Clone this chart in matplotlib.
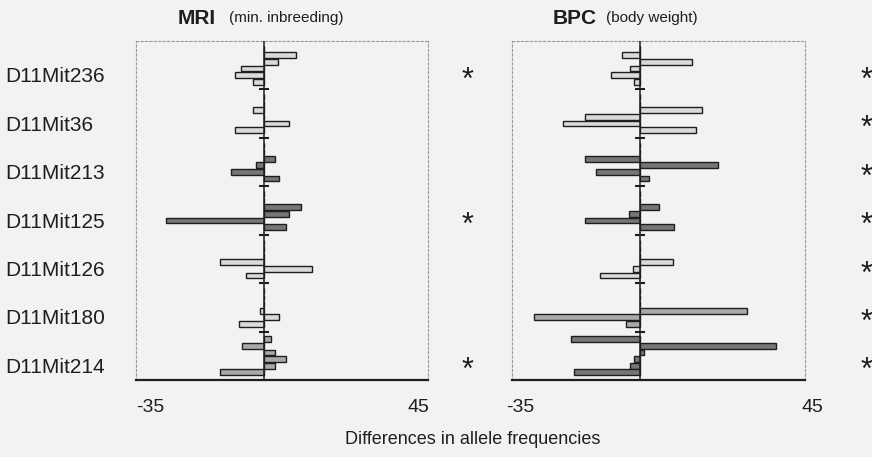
import numpy as np
import matplotlib
matplotlib.use("Agg")
import matplotlib.pyplot as plt
from matplotlib.transforms import blended_transform_factory, ScaledTranslation

plt.rcParams['font.family'] = ['Liberation Sans', 'DejaVu Sans']

# markers (rows, top to bottom)
markers = ['D11Mit236', 'D11Mit36', 'D11Mit213', 'D11Mit125',
           'D11Mit126', 'D11Mit180', 'D11Mit214']

# differences in allele frequencies, 6 bars per marker (0 = no bar)
mri_values = [
    [0, 8.9, 4.0, -6.1, -7.8, -3.0],
    [0, 0, -3.0, 0, 6.9, -7.9],
    [0, 0, 3.2, -2.1, -8.9, 4.1],
    [0, 0, 10.2, 7.0, -26.9, 6.1],
    [0, 0, 0, -11.9, 13.2, -4.9],
    [0, 0, 0, -0.9, 4.3, -6.9],
    [2.1, -5.9, 3.2, 6.0, 3.2, -11.9],
]
bpc_values = [
    [0, -5.0, 14.1, -2.9, -8.0, -1.8],
    [0, 0, 17.0, -15.0, -21.2, 15.2],
    [0, 0, -15.0, 21.2, -12.0, 2.3],
    [0, 0, 5.2, -3.0, -15.0, 9.1],
    [0, 0, 0, 9.0, -2.0, -10.9],
    [0, 0, 0, 29.1, -29.0, -3.8],
    [-18.9, 37.0, 1.1, -1.8, -2.9, -18.0],
]

# bar shade per marker and significance stars
mri_shade = ['light', 'light', 'dark', 'dark', 'light', 'light', 'medium']
bpc_shade = ['light', 'light', 'dark', 'dark', 'light', 'medium', 'dark']
mri_sig = [True, False, False, True, False, False, True]
bpc_sig = [True, True, True, True, True, True, True]

shades = {'light': '#dadada', 'medium': '#a9a9a9', 'dark': '#767676'}
bg = '#f2f2f0'
ink = '#1e1e1e'

W, H = 872, 457
fig = plt.figure(figsize=(W / 100, H / 100), dpi=100, facecolor=bg)


def px(x0, y0, x1, y1):
    return [x0 / W, 1 - y1 / H, (x1 - x0) / W, (y1 - y0) / H]


def panel(ax, values, shade, sig, star_x, shift_lo, shift_hi):
    n = len(values)
    for g, row in enumerate(values):
        ys = [g + (7.7 + 6.6 * j) / 48.4 for j in range(len(row))]
        ax.barh(ys, row, height=0.12, color=shades[shade[g]],
                edgecolor=ink, linewidth=1.0, zorder=2)
    ax.axvline(0, color=ink, linewidth=1.1, zorder=3)
    ax.plot(np.zeros(n - 1), np.arange(1, n), marker='_', markersize=7,
            color=ink, linestyle='none', markeredgewidth=1.5, zorder=4)
    ax.set_xlim(-35, 45)
    ax.set_ylim(n, 0)
    ax.set_facecolor(bg)
    ax.set_xticks([-35, 45])
    ax.set_xticklabels(['-35', '45'], fontsize=14, color=ink)
    ax.tick_params(axis='x', length=0, pad=14)
    labs = ax.get_xticklabels()
    labs[0].set_transform(labs[0].get_transform() +
                          ScaledTranslation(shift_lo / 100, 0, fig.dpi_scale_trans))
    labs[1].set_transform(labs[1].get_transform() +
                          ScaledTranslation(shift_hi / 100, 0, fig.dpi_scale_trans))
    ax.set_yticks([])
    for s in ['top', 'left', 'right']:
        ax.spines[s].set_color('#9a9a9a')
        ax.spines[s].set_linestyle((0, (2, 2)))
        ax.spines[s].set_linewidth(0.8)
    ax.spines['bottom'].set_color(ink)
    ax.spines['bottom'].set_linewidth(1.6)
    tr = blended_transform_factory(fig.transFigure, ax.transData)
    for g, flag in enumerate(sig):
        if flag:
            ax.text(star_x / W, g + 0.82, '*', transform=tr, fontsize=22,
                    ha='center', va='center', color=ink, clip_on=False)


ax1 = fig.add_axes(px(136, 41, 428, 380))
ax2 = fig.add_axes(px(512, 41, 805, 380))
panel(ax1, mri_values, mri_shade, mri_sig, 467, 14, -10)
panel(ax2, bpc_values, bpc_shade, bpc_sig, 866, 8, 7)

tr = blended_transform_factory(fig.transFigure, ax1.transData)
for g, name in enumerate(markers):
    fig.text(5 / W, 0, name, transform=tr, fontsize=15, color=ink,
             ha='left', va='center').set_y(g + 0.74)

fig.text(178 / W, 1 - 18 / H, 'MRI', fontsize=15, weight='bold', color=ink,
         ha='left', va='center')
fig.text(229 / W, 1 - 18 / H, '(min. inbreeding)', fontsize=11, color=ink,
         ha='left', va='center')
fig.text(553 / W, 1 - 18 / H, 'BPC', fontsize=15, weight='bold', color=ink,
         ha='left', va='center')
fig.text(606 / W, 1 - 18 / H, '(body weight)', fontsize=11, color=ink,
         ha='left', va='center')

fig.text(473 / W, 1 - 440 / H, 'Differences in allele frequencies',
         fontsize=13, color=ink, ha='center', va='center')

fig.savefig('out.png', dpi=100, facecolor=bg)
